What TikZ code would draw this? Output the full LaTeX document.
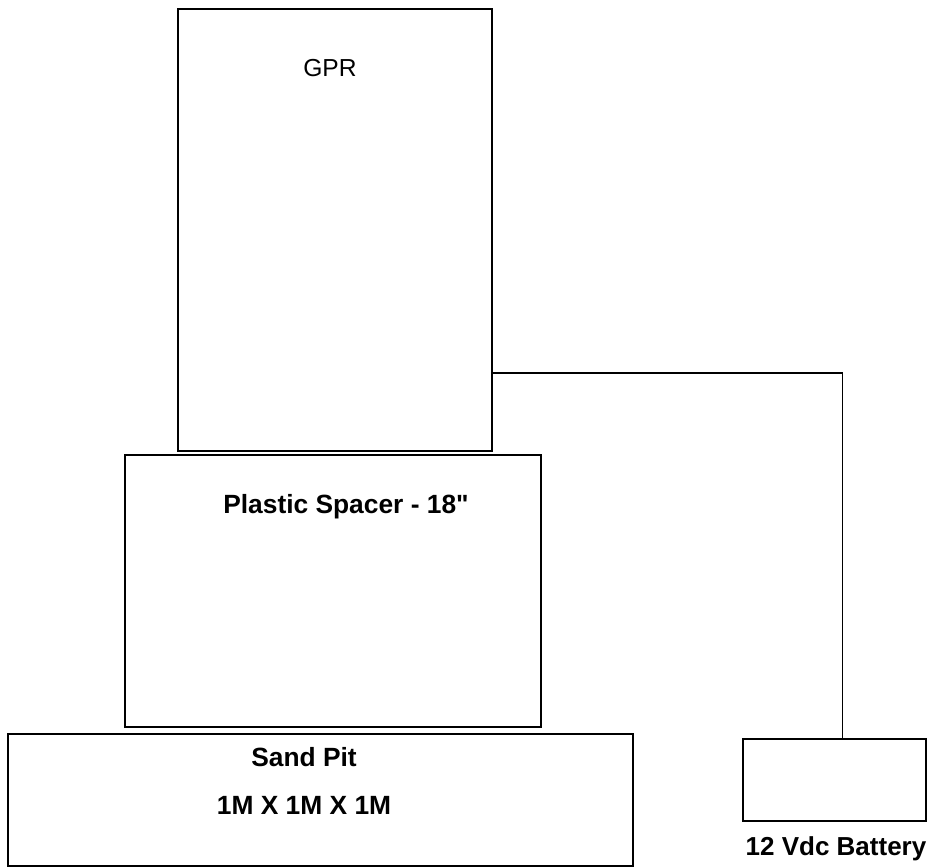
\documentclass[tikz,border=0pt]{standalone}
\usepackage{fontspec}
\setmainfont{Liberation Sans}
\newfontfamily\straightfont{Liberation Sans}
\usepackage{tikz}
\usetikzlibrary{positioning, calc}
\tikzset{
  rigbox/.style={
    draw, line width=0.8pt, minimum width=#1, inner sep=0pt
  },
  riglabel/.style={
    font=\fontsize{15}{18}\selectfont\bfseries, inner sep=0pt
  },
  rigwire/.style={line width=0.7pt}
}

\begin{document}
\begin{tikzpicture}[x=0.02cm, y=-0.02cm]
  \useasboundingbox (0,0) rectangle (932,867);

  % ── GPR unit ───────────────────────────────────────────────────
  \node[rigbox=6.28cm, minimum height=8.84cm] (gpr) at (335,230) {};
  \node[riglabel, font=\fontsize{14}{16}\selectfont] (gprtext) at (330,68) {GPR};

  % ── Plastic spacer ─────────────────────────────────────────────
  \node[rigbox=8.32cm, minimum height=5.44cm] (spacer) at (333,591) {};
  \node[riglabel] (spacertext) at (346,507)
    {Plastic Spacer - 18{\straightfont\bfseries "}};

  % ── Sand pit ───────────────────────────────────────────────────
  \node[riglabel] (pittext) at (304,757) {Sand Pit};
  \node[riglabel] (pitsize) at (304,805) {1M X 1M X 1M};
  \node[rigbox=12.5cm, minimum height=2.64cm] (pit) at (320.5,800) {};

  % ── Battery ────────────────────────────────────────────────────
  \node[rigbox=3.66cm, minimum height=1.64cm] (battery) at (834.5,780) {};
  \node[riglabel, font=\fontsize{14.8}{17}\selectfont\bfseries]
    (batterytext) at (836,849) {12 Vdc Battery};

  % ── Power cable ────────────────────────────────────────────────
  \coordinate (tap) at (gpr.east |- 0,373);
  \coordinate (drop) at ($(battery.north)+(8,0)$);
  \draw[rigwire] (tap) -| (drop);
\end{tikzpicture}
\end{document}
